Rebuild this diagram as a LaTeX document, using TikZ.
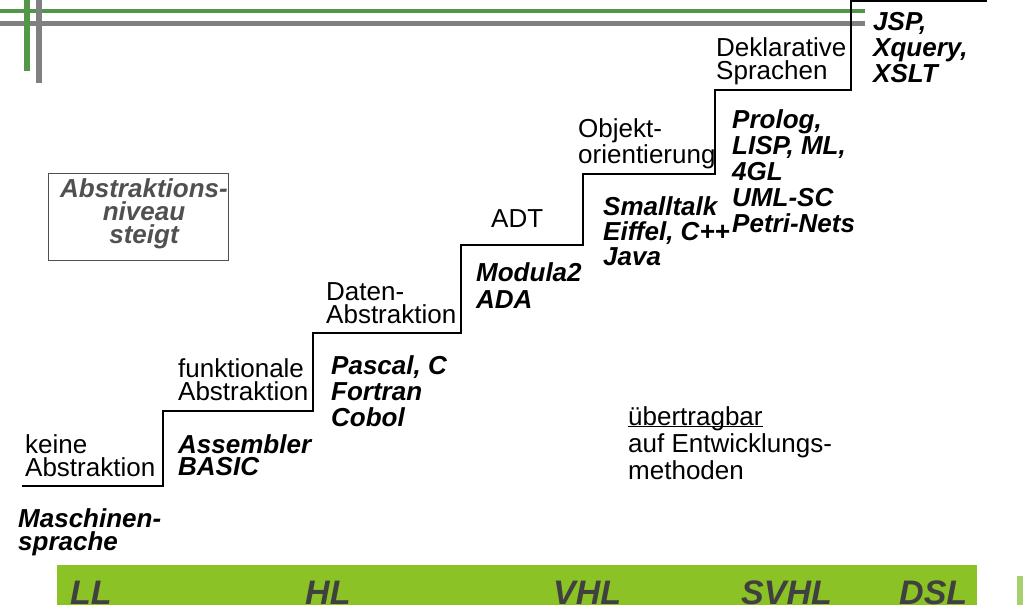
\documentclass[tikz,border=0pt]{standalone}
\usepackage{fontspec}
\setmainfont{Liberation Sans}
\definecolor{barGreen}{RGB}{139,195,38}
\definecolor{ruleGreen}{RGB}{80,152,72}
\definecolor{ruleGrey}{RGB}{128,128,128}
\definecolor{labelGrey}{RGB}{64,64,64}
\definecolor{boxGrey}{RGB}{80,80,80}
\definecolor{paleGreen}{RGB}{166,207,110}
\begin{document}
\begin{tikzpicture}[x=1pt,y=-1pt,
  level/.style={anchor=base west, inner sep=0pt, align=left,
    font=\fontsize{26}{23}\selectfont},
  lang/.style={anchor=base west, inner sep=0pt, align=left,
    font=\fontsize{26}{26}\selectfont\bfseries\itshape},
  tier/.style={anchor=base west, inner sep=0pt,
    font=\fontsize{34}{34}\selectfont\bfseries\itshape, text=labelGrey},
  stairs/.style={line width=2.5pt, line join=miter},
  boxframe/.style={draw=boxGrey, line width=1pt}]
\useasboundingbox (0,0) rectangle (1029,605);

% header rules
\fill[ruleGreen] (0,9) rectangle (865,13);
\fill[ruleGrey] (0,20.5) rectangle (865,25.5);
\fill[ruleGreen] (24,0) rectangle (30,71);
\fill[ruleGrey] (36,0) rectangle (42,83);

% staircase of abstraction levels
\draw[stairs] (22,486) -| (163,411) -| (313,333) -| (461,245)
  -| (583,174) -| (715,90) -| (851,1) -- (987,1);

% level names (anchored at the baseline of the last line)
\node[level] (keine) at (25,476) {keine\\Abstraktion};
\node[level] (funk) at (178,400) {funktionale\\Abstraktion};
\node[level] (daten) at (326,323) {Daten-\\Abstraktion};
\node[level] (adt) at (491,227) {ADT};
\node[level] (oo) at (578,163) {Objekt-\\orientierung};
\node[level] (dekl) at (716,79) {Deklarative\\Sprachen};

% languages per level
\node[lang, font=\fontsize{26}{23}\selectfont\bfseries\itshape] (masch) at (18,550) {Maschinen-\\sprache};
\node[lang, font=\fontsize{26}{22}\selectfont\bfseries\itshape] (asm) at (178,475) {Assembler\\BASIC};
\node[lang] (pascal) at (331,426) {Pascal, C\\Fortran\\Cobol};
\node[lang, font=\fontsize{26}{26.5}\selectfont\bfseries\itshape] (modula) at (476,308) {Modula2\\ADA};
\node[lang, font=\fontsize{26}{25}\selectfont\bfseries\itshape] (small) at (603,265) {Smalltalk\\Eiffel, C++\\Java};
\node[lang] (prolog) at (732,232) {Prolog,\\LISP, ML,\\4GL\\UML-SC\\Petri-Nets};
\node[lang] (jsp) at (873,82) {JSP,\\Xquery,\\XSLT};

% note
\node[level, font=\fontsize{26}{27}\selectfont] (ueber) at (628,479)
  {\underline{\smash{übertragbar}}\\auf Entwicklungs-\\methoden};

% framed caption
\draw[boxframe] (48,173) rectangle (228,260);
\node[lang, anchor=base, align=center, text=boxGrey,
  font=\fontsize{26}{23}\selectfont\bfseries\itshape] (steigt) at (144,243)
  {Abstraktions-\\niveau\\steigt};

% language generation bar
\fill[barGreen] (57,565) rectangle (977,605);
\node[tier] (ll) at (70,604) {LL};
\node[tier] (hl) at (305,604) {HL};
\node[tier] (vhl) at (553,604) {VHL};
\node[tier] (svhl) at (741,604) {SVHL};
\node[tier] (dsl) at (899,604) {DSL};
\fill[paleGreen] (1017,576) rectangle (1023,605);
\end{tikzpicture}
\end{document}
